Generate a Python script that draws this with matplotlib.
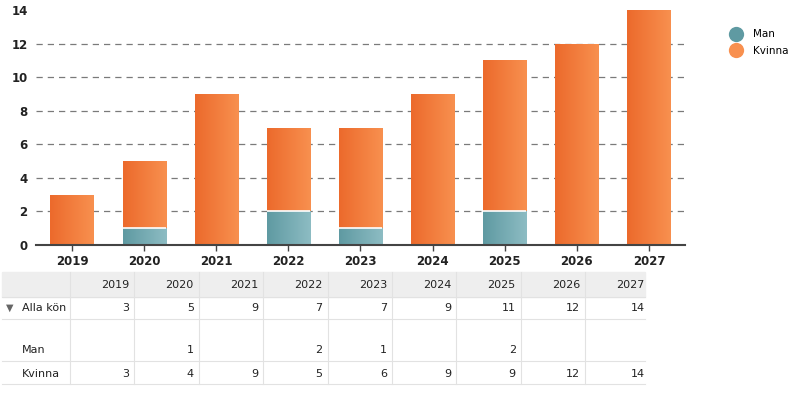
import numpy as np
import matplotlib
matplotlib.use("Agg")
import matplotlib.pyplot as plt
from matplotlib.lines import Line2D
from matplotlib.patches import Rectangle

years = ["2019", "2020", "2021", "2022", "2023", "2024", "2025", "2026", "2027"]
man = [0, 1, 0, 2, 1, 0, 2, 0, 0]
kvinna = [3, 4, 9, 5, 6, 9, 9, 12, 14]
totals = [3, 5, 9, 7, 7, 9, 11, 12, 14]
yticks = [0, 2, 4, 6, 8, 10, 12, 14]

ORANGE = ("#ec6a2c", "#f8904f")
TEAL = ("#5f9aa2", "#8dbcc3")

W, H = 806, 393
fig = plt.figure(figsize=(W / 100, H / 100), dpi=100)


def fx(px):
    return px / W


def fy(py):
    return 1 - py / H


ax = fig.add_axes([fx(36), fy(245), fx(685) - fx(36), fy(10) - fy(245)])

x = np.arange(len(years))
bw = 0.6


def grad_bar(xs, heights, bottoms, cols):
    bars = ax.bar(xs, heights, bw, bottom=bottoms, color=cols[1],
                  linewidth=0, zorder=3)
    grad = np.linspace(0, 1, 64).reshape(1, -1)
    cmap = matplotlib.colors.LinearSegmentedColormap.from_list("g", cols)
    for b in bars:
        if b.get_height() <= 0:
            continue
        x0, y0 = b.get_x(), b.get_y()
        im = ax.imshow(grad, cmap=cmap, aspect="auto", zorder=3.5,
                       extent=[x0, x0 + b.get_width(), y0, y0 + b.get_height()])
        im.set_clip_path(b)
    return bars


grad_bar(x, man, 0, TEAL)
grad_bar(x, kvinna, man, ORANGE)
# thin white gap between the stacked segments
seg = [i for i, m in enumerate(man) if m > 0]
ax.hlines([man[i] for i in seg], x[seg] - bw / 2, x[seg] + bw / 2,
          color="white", lw=1.2, zorder=4)

ax.set_xlim(-0.5, len(years) - 0.5)
ax.set_ylim(0, 14)
ax.set_yticks(yticks)
ax.set_xticks(x)
ax.set_xticklabels(years)
for lbl in ax.get_xticklabels() + ax.get_yticklabels():
    lbl.set_fontweight("bold")
    lbl.set_fontsize(8.5)
    lbl.set_color("#222222")
ax.tick_params(axis="y", length=0, pad=6)
ax.tick_params(axis="x", length=4, width=1, color="#444444", pad=3)
for s in ["top", "right", "left"]:
    ax.spines[s].set_visible(False)
ax.spines["bottom"].set_color("#444444")
ax.spines["bottom"].set_linewidth(1.5)
ax.spines["bottom"].set_zorder(5)
for v in yticks[1:-1]:
    ax.axhline(v, color="#7a7a7a", lw=0.9, ls=(0, (5, 4)), zorder=1)

# legend
handles = [Line2D([], [], marker="o", ls="", ms=11, color=TEAL[0], mec="none"),
           Line2D([], [], marker="o", ls="", ms=11, color=ORANGE[1], mec="none")]
fig.legend(handles, ["Man", "Kvinna"], loc="upper left",
           bbox_to_anchor=(fx(716), fy(20)), frameon=False, fontsize=7.5,
           handletextpad=0.7, labelspacing=0.6)

# table below the chart
col_edges = [2, 70] + [70 + 64.4 * (i + 1) for i in range(len(years))]
row_edges = [272, 297, 319, 361, 384]
line_c = "#e2e2e2"
fig.patches.append(Rectangle((fx(2), fy(297)), fx(645) - fx(2), fy(272) - fy(297),
                             transform=fig.transFigure, color="#eeeeee", zorder=0))
for yy in row_edges[1:]:
    fig.add_artist(Line2D([fx(2), fx(645)], [fy(yy), fy(yy)], color=line_c, lw=0.8))
for cx in col_edges[1:-1]:
    fig.add_artist(Line2D([fx(cx), fx(cx)], [fy(272), fy(384)], color=line_c, lw=0.8))

tfs = 8
rows = [("", years, 285), ("Alla kön", totals, 308), ("Man", man, 350), ("Kvinna", kvinna, 374)]
for label, vals, ty in rows:
    if label == "Alla kön":
        fig.text(fx(6), fy(ty), "▼", fontsize=7, color="#666666", va="center")
        fig.text(fx(22), fy(ty), label, fontsize=tfs, color="#222222", va="center")
    elif label:
        fig.text(fx(22), fy(ty), label, fontsize=tfs, color="#222222", va="center")
    for i, v in enumerate(vals):
        if label == "Man" and v == 0:
            continue
        fig.text(fx(col_edges[i + 2] - 5), fy(ty), str(v), fontsize=tfs,
                 color="#222222", ha="right", va="center")

fig.savefig("out.png", dpi=100)
